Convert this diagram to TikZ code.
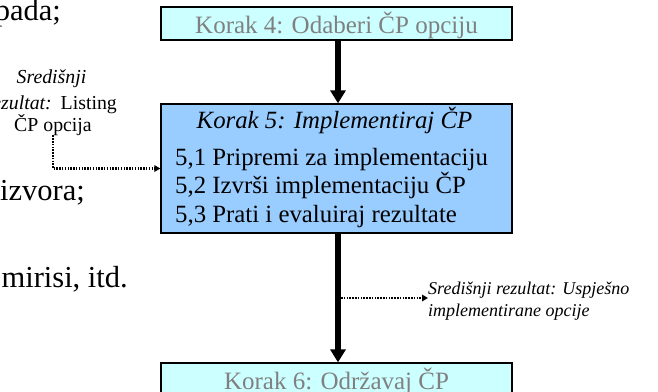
\documentclass[tikz,border=0pt]{standalone}
\usepackage{fontspec}
\setmainfont{Liberation Serif}
\usepackage{xcolor}
\usetikzlibrary{arrows.meta}
\usetikzlibrary{calc}

\definecolor{stepcyan}{HTML}{CCFFFF}
\definecolor{stepblue}{HTML}{99CCFF}
\definecolor{stepgray}{HTML}{808080}

\begin{document}
\begin{tikzpicture}[x=1pt,y=-1pt,
  stepbox/.style={draw,line width=1.3pt,minimum width=351pt,inner sep=0pt},
  bigarrow/.style={line width=5.5pt,-{Triangle[width=15pt,length=13pt]}},
  dotarrow/.style={line width=2.2pt,dash pattern=on 1.5pt off 1.3pt,
                   -{Triangle[width=6.5pt,length=6pt]}},
  boxtext/.style={inner sep=0pt,font=\fontsize{24.8}{29}\selectfont},
  slidetext/.style={inner sep=0pt,font=\fontsize{30.5}{36}\selectfont},
  notetext/.style={inner sep=0pt,font=\fontsize{19.8}{24}\selectfont}]
  \useasboundingbox (0,0) rectangle (658,391);
  \clip (0,0) rectangle (658,391);

  % text of the slide behind the diagram
  \node[slidetext,anchor=base east] (pada)   at ( 61,20)  {pada;};
  \node[slidetext,anchor=base west] (izvora) at (  0,200) {izvora;};
  \node[slidetext,anchor=base east] (mirisi) at (128,287) {mirisi, itd.};

  % steps
  \node[stepbox,fill=stepcyan,minimum height=33pt,text=stepgray,
        font=\fontsize{25}{29}\selectfont,text height=19pt,text depth=0pt]
        (korak4) at (336.5,23.5) {Korak 4: Odaberi ČP opciju};
  \node[stepbox,fill=stepblue,minimum height=129pt] (korak5) at (336.5,168.5) {};
  \node[stepbox,fill=stepcyan,minimum height=33pt,text=stepgray,
        font=\fontsize{25}{29}\selectfont,text height=19pt,text depth=0pt]
        (korak6) at (336.5,379.5) {Korak 6: Održavaj ČP};

  \node[boxtext,anchor=base] (naslov5) at (334.5,128) {\itshape Korak 5: Implementiraj ČP};
  \node[boxtext,anchor=base west] (k51) at (175,165) {5,1 Pripremi za implementaciju};
  \node[boxtext,anchor=base west] (k52) at (175,193) {5,2 Izvrši implementaciju ČP};
  \node[boxtext,anchor=base west] (k53) at (175,222) {5,3 Prati i evaluiraj rezultate};

  \draw[bigarrow] ([xshift=1.5pt]korak4.south) -- ([xshift=1.5pt]korak5.north);
  \draw[bigarrow] ([xshift=1.5pt]korak5.south) -- ([xshift=1.5pt]korak6.north);

  % central results
  \node[notetext,anchor=base]      (ulaz1) at ( 51.5, 83) {\itshape Središnji};
  \node[notetext,anchor=base east] (ulaz2) at (117,  109) {\itshape rezultat:\hspace{0.45em}\upshape Listing};
  \node[notetext,anchor=base]      (ulaz3) at ( 53,  131) {ČP opcija};
  \draw[dotarrow] (ulaz3.south) |- (korak5.west);

  \node[notetext,align=left,anchor=west,font=\fontsize{18}{22}\selectfont]
        (izlaz) at (428,301) {\itshape Središnji rezultat: Uspješno\\ \itshape implementirane opcije};
  \coordinate (grana) at (341,298);
  \draw[dotarrow] (grana) -- (grana -| izlaz.west);
\end{tikzpicture}
\end{document}
